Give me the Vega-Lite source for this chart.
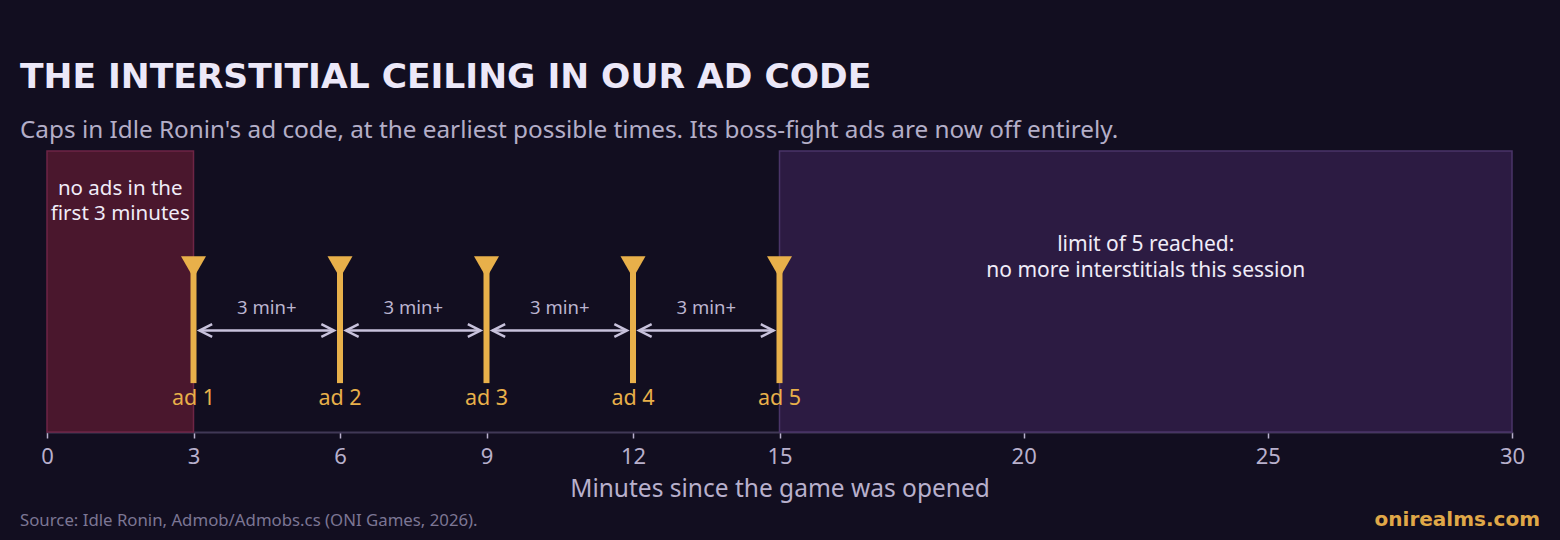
{
  "$schema": "https://vega.github.io/schema/vega-lite/v6.json",
  "width": 1465,
  "height": 281,
  "autosize": {"type": "none"},
  "padding": {"left": 47, "top": 151, "right": 48, "bottom": 108},
  "background": "#120e20",
  "config": {"view": {"stroke": null}, "font": "Noto Sans"},
  "title": {
    "text": "THE INTERSTITIAL CEILING IN OUR AD CODE",
    "subtitle": "Caps in Idle Ronin's ad code, at the earliest possible times. Its boss-fight ads are now off entirely.",
    "anchor": "start",
    "frame": "group",
    "dx": -27,
    "offset": 6,
    "font": "DejaVu Sans",
    "fontSize": 34.5,
    "fontWeight": "bold",
    "color": "#ece8f8",
    "subtitleFont": "Noto Sans",
    "subtitleFontSize": 24.3,
    "subtitleColor": "#b4aec8",
    "subtitlePadding": 23
  },
  "datasets": {
    "zones": [
      {"start": 0, "end": 3, "mid": 1.5, "zone": "cooldown", "label": ["no ads in the", "first 3 minutes"]},
      {"start": 15, "end": 30, "mid": 22.5, "zone": "limit", "label": ["limit of 5 reached:", "no more interstitials this session"]}
    ],
    "ads": [
      {"t": 3, "ad": "ad 1"},
      {"t": 6, "ad": "ad 2"},
      {"t": 9, "ad": "ad 3"},
      {"t": 12, "ad": "ad 4"},
      {"t": 15, "ad": "ad 5"}
    ],
    "gaps": [
      {"start": 3, "end": 6, "mid": 4.5, "label": "3 min+"},
      {"start": 6, "end": 9, "mid": 7.5, "label": "3 min+"},
      {"start": 9, "end": 12, "mid": 10.5, "label": "3 min+"},
      {"start": 12, "end": 15, "mid": 13.5, "label": "3 min+"}
    ]
  },
  "layer": [
    {
      "data": {"name": "zones"},
      "mark": {"type": "rect", "strokeWidth": 1.5},
      "encoding": {
        "x": {
          "field": "start",
          "type": "quantitative",
          "scale": {"domain": [0, 30], "nice": false},
          "axis": {
            "values": [0, 3, 6, 9, 12, 15, 20, 25, 30],
            "title": "Minutes since the game was opened",
            "titleFontSize": 24.5,
            "titleFontWeight": "normal",
            "titleColor": "#b8b0cc",
            "titlePadding": 10,
            "labelFontSize": 22,
            "labelColor": "#b8b0cc",
            "labelPadding": 8,
            "labelFlush": false,
            "tickColor": "#b8b0cc",
            "tickSize": 6,
            "tickWidth": 1.5,
            "domainColor": "#403856",
            "domainWidth": 2,
            "grid": false
          }
        },
        "x2": {"field": "end"},
        "y": {"datum": 0, "type": "quantitative", "scale": {"domain": [0, 100], "nice": false}, "axis": null},
        "y2": {"datum": 100},
        "fill": {
          "field": "zone",
          "type": "nominal",
          "scale": {"domain": ["cooldown", "limit"], "range": ["#4a172d", "#2c1b42"]},
          "legend": null
        },
        "stroke": {
          "field": "zone",
          "type": "nominal",
          "scale": {"domain": ["cooldown", "limit"], "range": ["#6e2545", "#4a3468"]},
          "legend": null
        }
      }
    },
    {
      "data": {"name": "zones"},
      "transform": [{"filter": "datum.zone === 'cooldown'"}],
      "mark": {"type": "text", "fontSize": 20.5, "color": "#f0ecf8", "align": "center", "baseline": "alphabetic", "lineHeight": 25},
      "encoding": {
        "x": {"field": "mid", "type": "quantitative"},
        "y": {"datum": 84.3, "type": "quantitative"},
        "text": {"field": "label"}
      }
    },
    {
      "data": {"name": "zones"},
      "transform": [{"filter": "datum.zone === 'limit'"}],
      "mark": {"type": "text", "fontSize": 21, "color": "#f0ecf8", "align": "center", "baseline": "alphabetic", "lineHeight": 25.5},
      "encoding": {
        "x": {"field": "mid", "type": "quantitative"},
        "y": {"datum": 64.4, "type": "quantitative"},
        "text": {"field": "label"}
      }
    },
    {
      "data": {"name": "gaps"},
      "mark": {"type": "rule", "color": "#c8c2dc", "strokeWidth": 2.5, "xOffset": 6, "x2Offset": -6},
      "encoding": {
        "x": {"field": "start", "type": "quantitative"},
        "x2": {"field": "end"},
        "y": {"datum": 36.1, "type": "quantitative"}
      }
    },
    {
      "data": {"name": "gaps"},
      "mark": {"type": "point", "shape": "M2,-1L0,0L2,1", "size": 160, "filled": false, "stroke": "#c8c2dc", "strokeWidth": 2.5, "opacity": 1, "xOffset": 6},
      "encoding": {
        "x": {"field": "start", "type": "quantitative"},
        "y": {"datum": 36.1, "type": "quantitative"}
      }
    },
    {
      "data": {"name": "gaps"},
      "mark": {"type": "point", "shape": "M-2,-1L0,0L-2,1", "size": 160, "filled": false, "stroke": "#c8c2dc", "strokeWidth": 2.5, "opacity": 1, "xOffset": -6},
      "encoding": {
        "x": {"field": "end", "type": "quantitative"},
        "y": {"datum": 36.1, "type": "quantitative"}
      }
    },
    {
      "data": {"name": "gaps"},
      "mark": {"type": "text", "fontSize": 18.5, "color": "#bcb5d0", "align": "center", "baseline": "alphabetic"},
      "encoding": {
        "x": {"field": "mid", "type": "quantitative"},
        "y": {"datum": 42, "type": "quantitative"},
        "text": {"field": "label"}
      }
    },
    {
      "data": {"name": "ads"},
      "mark": {"type": "rule", "color": "#e8b04a", "strokeWidth": 6},
      "encoding": {
        "x": {"field": "t", "type": "quantitative"},
        "y": {"datum": 17.4, "type": "quantitative"},
        "y2": {"datum": 58.7}
      }
    },
    {
      "data": {"name": "ads"},
      "mark": {"type": "point", "shape": "triangle-down", "size": 625, "filled": true, "color": "#e8b04a", "opacity": 1},
      "encoding": {
        "x": {"field": "t", "type": "quantitative"},
        "y": {"datum": 58.7, "type": "quantitative"}
      }
    },
    {
      "data": {"name": "ads"},
      "mark": {"type": "text", "fontSize": 21.5, "color": "#e8b04a", "align": "center", "baseline": "alphabetic"},
      "encoding": {
        "x": {"field": "t", "type": "quantitative"},
        "y": {"datum": 9.6, "type": "quantitative"},
        "text": {"field": "ad"}
      }
    },
    {
      "data": {"values": [{"note": "Source: Idle Ronin, Admob/Admobs.cs (ONI Games, 2026)."}]},
      "mark": {"type": "text", "fontSize": 16.8, "color": "#7c7694", "align": "left", "baseline": "alphabetic", "dx": -27},
      "encoding": {
        "x": {"datum": 0, "type": "quantitative"},
        "y": {"datum": -33.5, "type": "quantitative"},
        "text": {"field": "note"}
      }
    },
    {
      "data": {"values": [{"brand": "onirealms.com"}]},
      "mark": {"type": "text", "font": "DejaVu Sans", "fontWeight": "bold", "fontSize": 20, "color": "#e0a848", "align": "right", "baseline": "alphabetic", "dx": 28},
      "encoding": {
        "x": {"datum": 30, "type": "quantitative"},
        "y": {"datum": -33.5, "type": "quantitative"},
        "text": {"field": "brand"}
      }
    }
  ]
}
